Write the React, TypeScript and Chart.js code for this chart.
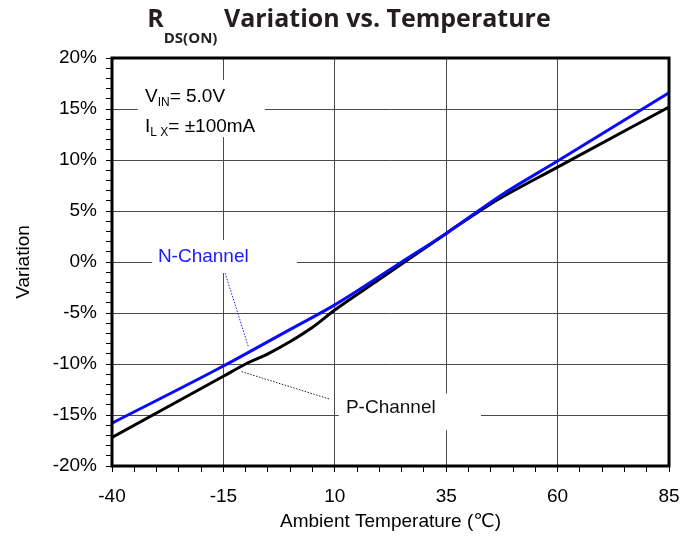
import React, { useEffect, useRef } from 'react';
import { Chart, registerables } from 'chart.js';

Chart.register(...registerables);

// ---- data ----
const nChannelTemps = [-40, -15, 0, 10, 25, 35, 47.5, 60, 85];
const nChannelValues = [-15.8, -10.2, -6.6, -4.2, 0, 2.8, 6.6, 9.9, 16.6];
const pChannelTemps = [-40, -15, -10, -5, 0, 5, 10, 20, 35, 45, 60, 85];
const pChannelValues = [-17.2, -11.2, -10.0, -9.0, -7.8, -6.4, -4.7, -1.7, 2.8, 5.7, 9.3, 15.2];
const xTickLabels = [-40, -15, 10, 35, 60, 85];
const yTickLabels = [-20, -15, -10, -5, 0, 5, 10, 15, 20];

const seriesNames = ['N-Channel', 'P-Channel'];
const titleMain = 'R';
const titleSub = 'DS(ON)';
const titleRest = ' Variation vs. Temperature';
const xTitle = 'Ambient Temperature (\u2103)';
const yTitle = 'Variation';

const FONT = '"Liberation Sans", Arial, Helvetica, "DejaVu Sans", sans-serif';
const TITLE_FONT = '"Open Sans", "Noto Sans", sans-serif';

// annotation placement in data units (temperature, %)
const boxes = [
  { x0: -34.2, x1: -5.7, y0: 17.85, y1: 12.25 },
  { x0: -31.0, x1: 1.5, y0: 2.16, y1: -1.08 },
  { x0: 10.9, x1: 42.8, y0: -12.9, y1: -16.5 },
];

const annotationPlugin = {
  id: 'annotations',
  beforeDatasetsDraw(chart: any) {
    const { ctx } = chart;
    const xs = chart.scales.x;
    const ys = chart.scales.y;
    ctx.save();
    ctx.fillStyle = '#ffffff';
    boxes.forEach((b) => {
      const x0 = xs.getPixelForValue(b.x0);
      const x1 = xs.getPixelForValue(b.x1);
      const y0 = ys.getPixelForValue(b.y0);
      const y1 = ys.getPixelForValue(b.y1);
      ctx.fillRect(x0, y0, x1 - x0, y1 - y0);
    });
    ctx.restore();
  },
  afterDatasetsDraw(chart: any) {
    const { ctx, chartArea } = chart;
    const xs = chart.scales.x;
    const ys = chart.scales.y;
    const X = (v: number) => xs.getPixelForValue(v);
    const Y = (v: number) => ys.getPixelForValue(v);
    ctx.save();

    // leader lines
    ctx.lineWidth = 1;
    ctx.setLineDash([1.5, 1.5]);
    ctx.strokeStyle = '#1a1aff';
    ctx.beginPath();
    ctx.moveTo(X(-14.6), Y(-1.1));
    ctx.lineTo(X(-9.4), Y(-8.3));
    ctx.stroke();
    ctx.strokeStyle = '#222222';
    ctx.beginPath();
    ctx.moveTo(X(-10.9), Y(-10.75));
    ctx.lineTo(X(8.9), Y(-13.45));
    ctx.stroke();
    ctx.setLineDash([]);

    // texts
    const rich = (parts: { t: string; size: number; dy: number }[], x: number, y: number, color: string) => {
      let cx = x;
      ctx.fillStyle = color;
      ctx.textAlign = 'left';
      ctx.textBaseline = 'alphabetic';
      parts.forEach((p) => {
        ctx.font = `${p.size}px ${FONT}`;
        ctx.fillText(p.t, cx, y + p.dy);
        cx += ctx.measureText(p.t).width;
      });
    };
    rich(
      [
        { t: 'V', size: 19, dy: 0 },
        { t: 'IN', size: 12, dy: 4 },
        { t: '= 5.0V', size: 19, dy: 0 },
      ],
      X(-32.6), Y(15.7), '#000000'
    );
    rich(
      [
        { t: 'I', size: 19, dy: 0 },
        { t: 'L X', size: 12, dy: 4 },
        { t: '= \u00b1100mA', size: 19, dy: 0 },
      ],
      X(-32.6), Y(12.77), '#000000'
    );
    rich([{ t: seriesNames[0], size: 19, dy: 0 }], X(-29.7), Y(0.03), '#1a1aff');
    rich([{ t: seriesNames[1], size: 19, dy: 0 }], X(12.5), Y(-14.83), '#111111');

    // frame
    ctx.strokeStyle = '#000000';
    ctx.lineWidth = 3;
    ctx.strokeRect(chartArea.left, chartArea.top, chartArea.right - chartArea.left, chartArea.bottom - chartArea.top);
    ctx.restore();
  },
  afterDraw(chart: any) {
    const { ctx } = chart;
    ctx.save();
    ctx.fillStyle = '#231f20';
    ctx.textBaseline = 'alphabetic';
    ctx.textAlign = 'left';
    const big = `bold 25px ${TITLE_FONT}`;
    const small = `bold 15px ${TITLE_FONT}`;
    ctx.font = big;
    const w1 = ctx.measureText(titleMain).width;
    const w3 = ctx.measureText(titleRest).width;
    ctx.font = small;
    const w2 = ctx.measureText(titleSub).width;
    const total = w1 + w2 + w3;
    let x = chart.width / 2 - total / 2;
    const base = 27;
    ctx.font = big;
    ctx.fillText(titleMain, x, base);
    x += w1;
    ctx.font = small;
    ctx.fillText(titleSub, x, base + 16);
    x += w2;
    ctx.font = big;
    ctx.fillText(titleRest, x, base);
    ctx.restore();
  },
};

export default function App() {
  const canvasRef = useRef<HTMLCanvasElement | null>(null);

  useEffect(() => {
    document.body.style.margin = '0';
    const canvas = canvasRef.current;
    if (!canvas) return;
    const chart = new Chart(canvas, {
      type: 'line',
      data: {
        datasets: [
          {
            label: seriesNames[0],
            data: nChannelTemps.map((t, i) => ({ x: t, y: nChannelValues[i] })),
            borderColor: '#0a0aff',
            borderWidth: 3,
            pointRadius: 0,
            cubicInterpolationMode: 'monotone',
            fill: false,
          },
          {
            label: seriesNames[1],
            data: pChannelTemps.map((t, i) => ({ x: t, y: pChannelValues[i] })),
            borderColor: '#000000',
            borderWidth: 3,
            pointRadius: 0,
            cubicInterpolationMode: 'monotone',
            fill: false,
          },
        ],
      },
      options: {
        responsive: false,
        animation: false,
        devicePixelRatio: 1,
        layout: { padding: { top: 58, right: 29, left: 0, bottom: 0 } },
        plugins: {
          legend: { display: false },
          title: { display: false },
          tooltip: { enabled: false },
        },
        scales: {
          x: {
            type: 'linear',
            min: -40,
            max: 85,
            afterFit: (s: any) => {
              s.height = 71;
            },
            ticks: {
              stepSize: 5,
              autoSkip: false,
              maxRotation: 0,
              padding: 13,
              color: '#000000',
              font: { family: FONT, size: 19 },
              callback: (v: any) => (xTickLabels.includes(Number(v)) ? String(v) : ''),
            },
            grid: {
              color: (c: any) => (xTickLabels.includes(c.tick?.value) ? '#4a4a4a' : 'rgba(0,0,0,0)'),
              tickColor: '#000000',
              tickLength: 6,
              lineWidth: 1,
            },
            border: { display: false },
            title: {
              display: true,
              text: xTitle,
              color: '#000000',
              font: { family: FONT, size: 19 },
              padding: { top: 0, bottom: 4 },
            },
          },
          y: {
            type: 'linear',
            min: -20,
            max: 20,
            afterFit: (s: any) => {
              s.width = 112;
            },
            ticks: {
              stepSize: 1,
              autoSkip: false,
              padding: 9,
              color: '#000000',
              font: { family: FONT, size: 19 },
              callback: (v: any) => (yTickLabels.includes(Number(v)) ? `${v}%` : ''),
            },
            grid: {
              color: (c: any) => (yTickLabels.includes(c.tick?.value) ? '#4a4a4a' : 'rgba(0,0,0,0)'),
              tickColor: '#000000',
              tickLength: 6,
              lineWidth: 1,
            },
            border: { display: false },
            title: {
              display: true,
              text: yTitle,
              color: '#000000',
              font: { family: FONT, size: 19 },
              padding: { top: 12, bottom: 0 },
            },
          },
        },
      },
      plugins: [annotationPlugin],
    });
    return () => chart.destroy();
  }, []);

  return (
    <div style={{ width: 698, height: 537, position: 'relative', background: '#ffffff' }}>
      <canvas ref={canvasRef} width={698} height={537} />
    </div>
  );
}
